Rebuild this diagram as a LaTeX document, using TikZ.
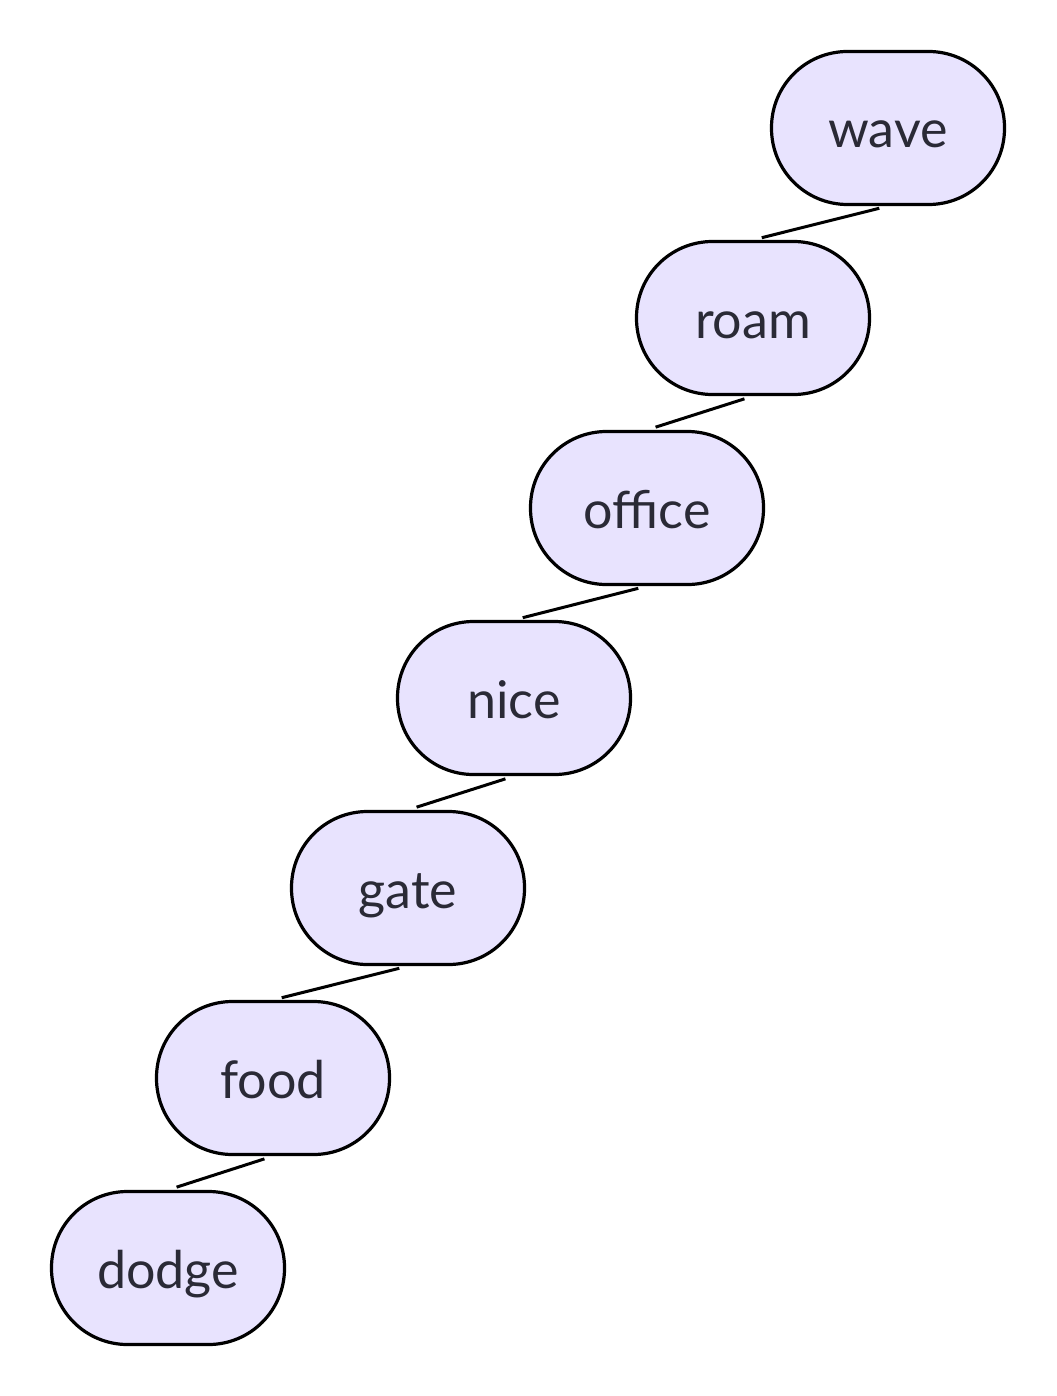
\documentclass[tikz,border=0pt]{standalone}
\usepackage{fontspec}
\setmainfont{Lato}
\definecolor{nodefill}{HTML}{E8E3FE}
\definecolor{nodetext}{HTML}{2A2A36}
\begin{document}
\begin{tikzpicture}[
        x=0.5pt, y=-0.5pt,
        word/.style={
            rectangle,
            rounded corners=38pt,
            draw,
            line width=1.6pt,
            fill=nodefill,
            text=nodetext,
            inner sep=0pt,
            text height=20pt,
            text depth=0pt,
            minimum width=116.5pt,
            minimum height=76.5pt,
            font=\fontsize{26}{30}\selectfont
        },
        link/.style={
            line width=1.5pt,
            shorten <=4.5pt,
            shorten >=4.5pt
        }
    ]
    \useasboundingbox (0,0) rectangle (1056,1396);

    % Main boxes
    \node[word] (wave) at (888,128) {wave};
    \node[word] (roam) at (753,318) {roam};
    \node[word] (office) at (647,508) {office};
    \node[word] (nice) at (514,698) {nice};
    \node[word] (gate) at (408,888) {gate};
    \node[word] (food) at (273,1078) {food};
    \node[word] (dodge) at (168,1268) {dodge};

    % Connections
    \draw[link] (wave.south) -- (roam.north);
    \draw[link] (roam.south) -- (office.north);
    \draw[link] (office.south) -- (nice.north);
    \draw[link] (nice.south) -- (gate.north);
    \draw[link] (gate.south) -- (food.north);
    \draw[link] (food.south) -- (dodge.north);

\end{tikzpicture}
\end{document}
